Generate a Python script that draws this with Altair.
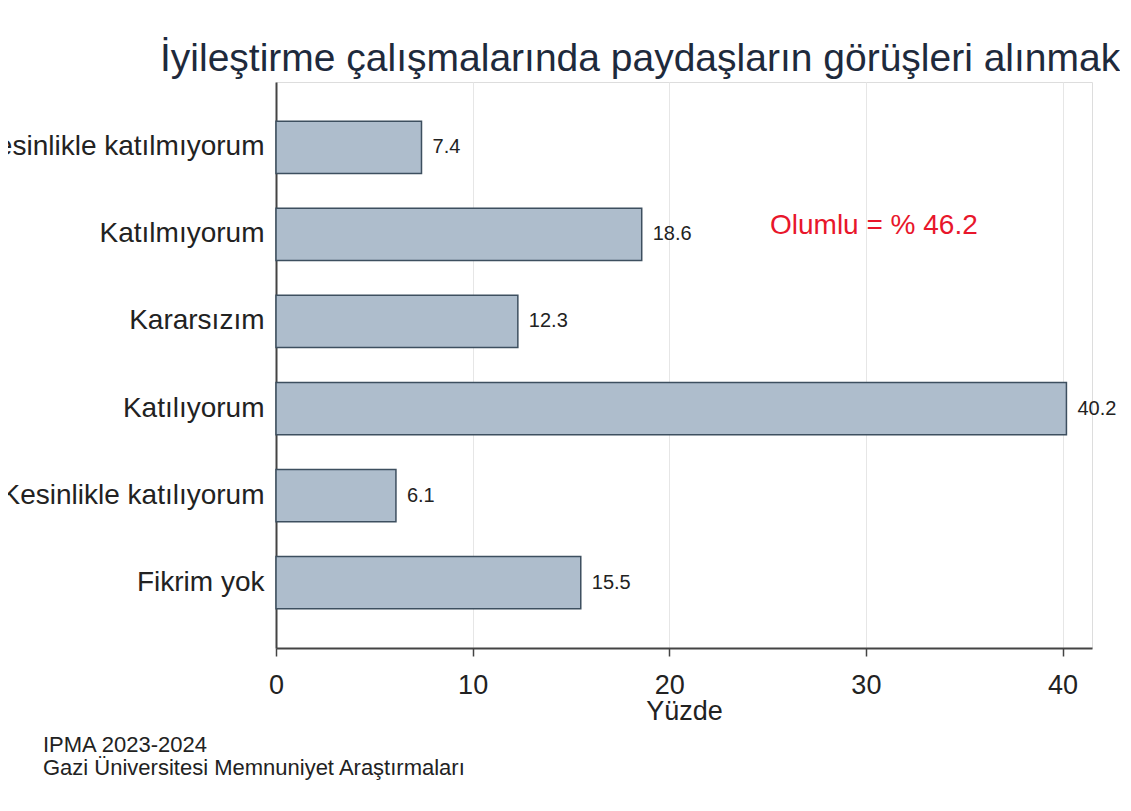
import altair as alt
import pandas as pd

categories = ["Kesinlikle katılmıyorum", "Katılmıyorum", "Kararsızım",
              "Katılıyorum", "Kesinlikle katılıyorum", "Fikrim yok"]
values = [7.4, 18.6, 12.3, 40.2, 6.1, 15.5]
x_ticks = [0, 10, 20, 30, 40]
title_text = "İyileştirme çalışmalarında paydaşların görüşleri alınmaktadır"
note_text = "Olumlu = % 46.2"
footer_line1 = "IPMA 2023-2024"
footer_line2 = "Gazi Üniversitesi Memnuniyet Araştırmaları"

FONT = "Liberation Sans"
df = pd.DataFrame({"cat": categories, "val": values})

base = alt.Chart(df)
y_enc = alt.Y("cat:N", sort=None,
              scale=alt.Scale(paddingInner=0.4, paddingOuter=0.45),
              axis=alt.Axis(title=None, ticks=False, labelFontSize=28, labelFont=FONT,
                            labelColor="#222222", labelPadding=12, labelLimit=0,
                            domainColor="#444444", domainWidth=2, grid=False))

bars = base.mark_bar(color="#aebdcc", stroke="#3d4f5f", strokeWidth=1.5).encode(
    y=y_enc,
    x=alt.X("val:Q",
            scale=alt.Scale(domain=[0, 41.5], nice=False),
            axis=alt.Axis(values=x_ticks, title="Yüzde", titleFontSize=27, titleFont=FONT,
                          titleFontWeight="normal", titleColor="#222222", titlePadding=0,
                          labelFontSize=27, labelFont=FONT, labelColor="#222222",
                          labelPadding=16, tickSize=8, tickColor="#444444", tickWidth=1.5,
                          domainColor="#444444", domainWidth=2,
                          grid=True, gridColor="#e6e6e6", gridWidth=1,
                          labelFlush=False)),
)

labels = base.mark_text(align="left", baseline="middle", dx=11, fontSize=20,
                        font=FONT, color="#222222").encode(
    y=y_enc,
    x="val:Q",
    text=alt.Text("val:Q", format=".1f"),
)

note = alt.Chart(pd.DataFrame({"t": [note_text]})).mark_text(
    align="left", baseline="middle", fontSize=28, font=FONT, color="#e8162b"
).encode(text="t:N", x=alt.value(494), y=alt.value(144))

foot1 = alt.Chart(pd.DataFrame({"t": [footer_line1]})).mark_text(
    align="left", baseline="alphabetic", fontSize=22, font=FONT, color="#222222"
).encode(text="t:N", x=alt.value(-233), y=alt.value(670))

foot2 = alt.Chart(pd.DataFrame({"t": [footer_line2]})).mark_text(
    align="left", baseline="alphabetic", fontSize=22, font=FONT, color="#222222"
).encode(text="t:N", x=alt.value(-233), y=alt.value(693))

chart = alt.layer(bars, labels, note, foot1, foot2).properties(
    width=816, height=566,
    title=alt.TitleParams(title_text, anchor="start", frame="group", dx=-116, dy=36,
                          fontSize=39, font=FONT, fontWeight="normal", color="#1e2a3c",
                          baseline="alphabetic", offset=8),
    autosize=alt.AutoSizeParams(type="none"),
    padding={"left": 268, "top": 74, "right": 28, "bottom": 140},
).configure_view(stroke=None).configure(background="white")

chart.save("out.html", embed_options={"renderer": "svg", "actions": False})
